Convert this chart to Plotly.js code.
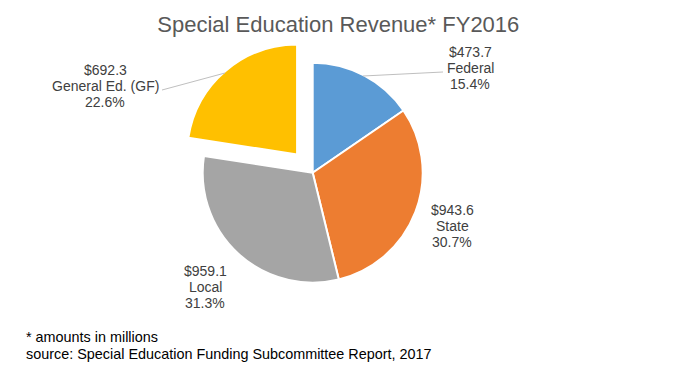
<!DOCTYPE html>
<html>
<head>
<meta charset="utf-8">
<script src="https://cdn.plot.ly/plotly-3.0.1.min.js"></script>
<style>html,body{margin:0;padding:0;background:#fff;}#chart{width:678px;height:375px;}</style>
</head>
<body>
<div id="chart"></div>
<script>
const categories = ["Federal", "State", "Local", "General Ed. (GF)"];
const amounts = [473.7, 943.6, 959.1, 692.3];
const percents = ["15.4%", "30.7%", "31.3%", "22.6%"];
const colors = ["#5B9BD5", "#ED7D31", "#A5A5A5", "#FFC000"];
const pulls = [0, 0, 0, 0.218];
const footnotes = ["* amounts in millions", "source: Special Education Funding Subcommittee Report, 2017"];

const W = 678, H = 375;
const px = x => x / W;
const py = y => 1 - y / H;
const FONT = "Liberation Sans, Arial, sans-serif";

// label placement (layout only): centre x, middle-line y, optional leader line
const labelPos = [
  {x: 470, y: 68, line: [[363, 76], [443, 72]]},
  {x: 452, y: 226, line: null},
  {x: 205, y: 287, line: null},
  {x: 105, y: 86, line: [[225, 73], [162, 90]]}
];
const LINE_GAP = 16;

const annotations = [];
const shapes = [];
labelPos.forEach((p, i) => {
  const lines = ["$" + amounts[i].toFixed(1), categories[i], percents[i]];
  lines.forEach((t, k) => {
    annotations.push({
      text: t, showarrow: false, xanchor: "center", yanchor: "middle",
      xref: "paper", yref: "paper", x: px(p.x), y: py(p.y + (k - 1) * LINE_GAP),
      font: {family: FONT, size: 14, color: "#404040"}
    });
  });
  if (p.line) {
    shapes.push({
      type: "line", xref: "paper", yref: "paper",
      x0: px(p.line[0][0]), y0: py(p.line[0][1]),
      x1: px(p.line[1][0]), y1: py(p.line[1][1]),
      line: {color: "#BFBFBF", width: 1}
    });
  }
});

footnotes.forEach((t, k) => {
  annotations.push({
    text: t, showarrow: false, xanchor: "left", yanchor: "middle",
    xref: "paper", yref: "paper", x: px(24), y: py(337 + k * 16.7),
    font: {family: FONT, size: 14.4, color: "#000000"}
  });
});

const trace = {
  type: "pie",
  labels: categories,
  values: amounts,
  sort: false,
  direction: "clockwise",
  rotation: 0,
  pull: pulls,
  textinfo: "none",
  hoverinfo: "label+value+percent",
  marker: {colors: colors, line: {color: "#FFFFFF", width: 2}},
  domain: {x: [0.2636, 0.6588], y: [0.1821, 0.8968]},
  showlegend: false
};

const layout = {
  width: W, height: H,
  margin: {l: 0, r: 0, t: 0, b: 0},
  paper_bgcolor: "#FFFFFF",
  title: {
    text: "Special Education Revenue* FY2016",
    font: {family: FONT, size: 22, color: "#595959"},
    x: 0.499, xanchor: "center", y: py(24), yanchor: "middle", yref: "paper"
  },
  showlegend: false,
  annotations: annotations,
  shapes: shapes
};

Plotly.newPlot("chart", [trace], layout, {displayModeBar: false, staticPlot: true});
</script>
</body>
</html>
